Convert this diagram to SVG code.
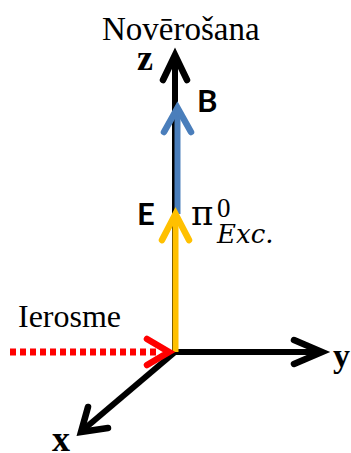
<svg xmlns="http://www.w3.org/2000/svg" width="351" height="453" viewBox="0 0 351 453">
<style>
.serif{font-family:"Liberation Serif","Times New Roman",serif;fill:#000}
.math{font-family:"DejaVu Serif","Liberation Serif",serif;fill:#000}
.bold{font-weight:bold}
.sans{font-family:Lato,"Liberation Sans",sans-serif;font-weight:bold;fill:#000}
.ln{fill:none;stroke-width:6}
.hd{fill:none;stroke-width:6.5;stroke-linecap:round;stroke-linejoin:miter}
</style>
<rect width="351" height="453" fill="#fff"/>
<g id="connectors">
  <g id="axis-z">
    <line class="ln" x1="175" y1="352" x2="175" y2="58" stroke="#000"/>
    <path class="hd" d="M163,80 L175,55 L187,80" stroke="#000"/>
  </g>
  <g id="axis-y">
    <line class="ln" x1="173" y1="352" x2="320" y2="352" stroke="#000"/>
    <path class="hd" d="M294,340 L322,352 L294,364" stroke="#000"/>
  </g>
  <g id="axis-x">
    <line class="ln" x1="175" y1="352" x2="83" y2="430" stroke="#000"/>
    <path class="hd" d="M88,407 L81,432 L108,428" stroke="#000"/>
  </g>
  <g id="vector-B">
    <line class="ln" x1="177.5" y1="214" x2="177.5" y2="110" stroke="#4a7ebb"/>
    <path class="hd" d="M164,132 L177.5,108 L191,132" stroke="#4a7ebb"/>
  </g>
  <g id="vector-E">
    <line class="ln" x1="175.5" y1="352" x2="175.5" y2="216" stroke="#ffc000"/>
    <path class="hd" d="M162,240 L175.5,214 L189,240" stroke="#ffc000"/>
  </g>
  <g id="excitation-beam">
    <line x1="10" y1="352" x2="160" y2="352" stroke="#ff0000" stroke-width="7" stroke-dasharray="6 4"/>
    <path class="hd" d="M147,339 L169,352 L147,365" stroke="#ff0000"/>
  </g>
</g>
<g id="label-observation"><text class="serif" x="102" y="40" font-size="33">Novērošana</text></g>
<g id="label-source"><text class="serif" x="18" y="327" font-size="32">Ierosme</text></g>
<g id="label-z"><text class="serif bold" x="137" y="70" font-size="36">z</text></g>
<g id="label-y"><text class="serif bold" x="333" y="367" font-size="34">y</text></g>
<g id="label-x"><text class="serif bold" x="52" y="451" font-size="36">x</text></g>
<g id="label-B"><text class="sans" x="197" y="112" font-size="31">B</text></g>
<g id="label-E"><text class="sans" x="137" y="225" font-size="31">E</text></g>
<g id="label-pi">
  <text class="math" x="191" y="225" font-size="34">π</text>
  <text class="serif" x="217" y="217" font-size="27">0</text>
  <text class="math" x="217" y="243" font-size="26" font-style="italic">Exc.</text>
</g>
</svg>
